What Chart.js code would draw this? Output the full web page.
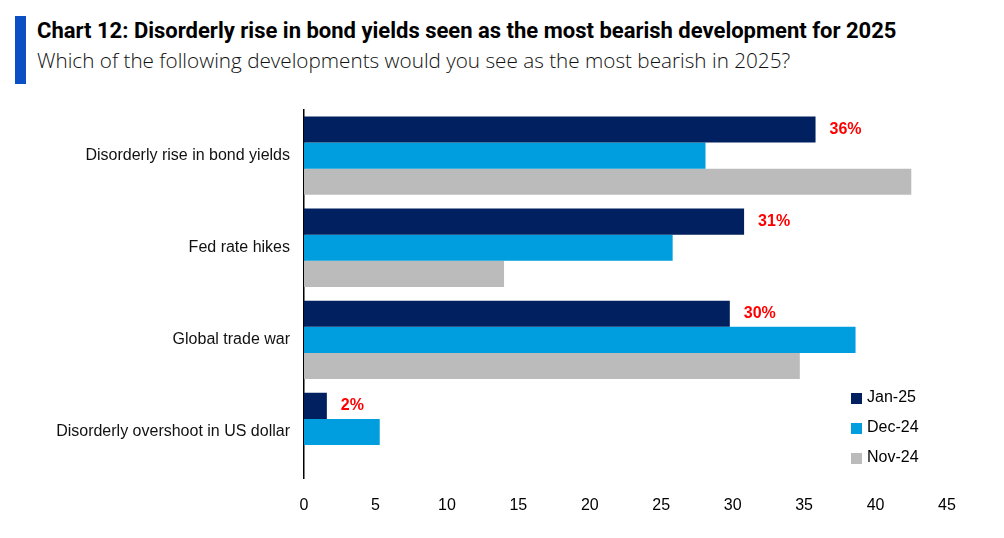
<!DOCTYPE html>
<html>
<head>
<meta charset="utf-8">
<script src="https://cdn.jsdelivr.net/npm/chart.js@4.4.1/dist/chart.umd.min.js"></script>
<style>
  html, body { margin: 0; padding: 0; background: #fff; }
  body { width: 1004px; height: 538px; position: relative; overflow: hidden; }
  .bar-accent { position: absolute; left: 15px; top: 16px; width: 11px; height: 68px; background: #0a4fc4; }
  .title { position: absolute; left: 37px; top: 18px; font-family: "Liberation Sans Narrow", "Roboto", sans-serif; font-weight: bold; font-size: 22px; color: #000; white-space: nowrap; }
  .subtitle { position: absolute; left: 37px; top: 46px; font-family: "Open Sans", sans-serif; font-weight: 300; font-size: 20.7px; color: #111; white-space: nowrap; }
  .wrap { position: absolute; left: 0; top: 86px; width: 1004px; height: 452px; }
</style>
</head>
<body>
<div class="bar-accent"></div>
<div class="title">Chart 12: Disorderly rise in bond yields seen as the most bearish development for 2025</div>
<div class="subtitle">Which of the following developments would you see as the most bearish in 2025?</div>
<div class="wrap"><canvas id="chart"></canvas></div>
<script>
// --- datos ---
const categories = ["Disorderly rise in bond yields", "Fed rate hikes", "Global trade war", "Disorderly overshoot in US dollar"];
const seriesNames = ["Jan-25", "Dec-24", "Nov-24"];
const jan25 = [35.8, 30.8, 29.8, 1.6];
const dec24 = [28.1, 25.8, 38.6, 5.3];
const nov24 = [42.5, 14.0, 34.7, 0];
const janLabels = ["36%", "31%", "30%", "2%"];
const colors = ["#002060", "#009ede", "#bbbbbb"];

// etiquetas rojas al final de las barras Jan-25
const barLabels = {
    id: "barLabels",
    afterDatasetsDraw(chart) {
        const ctx = chart.ctx;
        const meta = chart.getDatasetMeta(0);
        ctx.save();
        ctx.fillStyle = "#ff0000";
        ctx.font = "bold 16px 'Liberation Sans', Arial, sans-serif";
        ctx.textBaseline = "middle";
        ctx.textAlign = "left";
        meta.data.forEach((bar, i) => {
            ctx.fillText(janLabels[i], bar.x + 14, bar.y);
        });
        ctx.restore();
    }
};

// leyenda dibujada dentro del área
const sideLegend = {
    id: "sideLegend",
    afterDraw(chart) {
        const ctx = chart.ctx;
        ctx.save();
        ctx.font = "16px 'Liberation Sans', Arial, sans-serif";
        ctx.textBaseline = "middle";
        chart.data.datasets.forEach((ds, i) => {
            const y = 312 + i * 30;
            ctx.fillStyle = ds.backgroundColor;
            ctx.fillRect(851, y - 5, 11, 11);
            ctx.fillStyle = "#000";
            ctx.fillText(ds.label, 867, y);
        });
        ctx.restore();
    }
};

const ctx = document.getElementById("chart").getContext("2d");
new Chart(ctx, {
    type: "bar",
    data: {
        labels: categories,
        datasets: [
            { label: seriesNames[0], data: jan25, backgroundColor: colors[0] },
            { label: seriesNames[1], data: dec24, backgroundColor: colors[1] },
            { label: seriesNames[2], data: nov24, backgroundColor: colors[2] }
        ]
    },
    options: {
        indexAxis: "y",
        responsive: true,
        maintainAspectRatio: false,
        animation: false,
        datasets: { bar: { barPercentage: 1, categoryPercentage: 0.85 } },
        layout: { padding: { top: 5, right: 57, left: 0, bottom: 0 } },
        plugins: { legend: { display: false }, tooltip: { enabled: false } },
        scales: {
            x: {
                min: 0, max: 45,
                ticks: { stepSize: 5, color: "#000", padding: 18, font: { family: "'Liberation Sans', Arial", size: 16 } },
                grid: { display: false, drawTicks: false },
                border: { display: false },
                afterFit(scale) { scale.height = 60; }
            },
            y: {
                ticks: { color: "#111", padding: 14, font: { family: "'Liberation Sans', Arial", size: 16 } },
                grid: { display: false, drawTicks: false },
                border: { display: true, color: "#000", width: 1.5 },
                afterFit(scale) { scale.width = 304; }
            }
        }
    },
    plugins: [barLabels, sideLegend]
});
</script>
</body>
</html>
